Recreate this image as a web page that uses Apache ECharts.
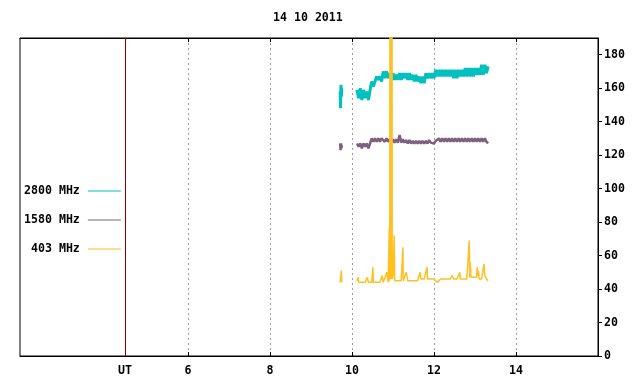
<!DOCTYPE html>
<html>
<head>
<meta charset="utf-8">
<script src="https://cdn.jsdelivr.net/npm/echarts@6/dist/echarts.min.js"></script>
<style>
  html, body { margin: 0; padding: 0; background: #fff; }
  #chart { width: 640px; height: 384px; }
</style>
</head>
<body>
<div id="chart"></div>
<script>
// radio flux, 14 10 2011
const titleText = '14 10 2011';
const seriesNames = ['2800 MHz', '1580 MHz', '403 MHz'];
const xTicks = [6, 8, 10, 12, 14];
const yTicks = [0, 20, 40, 60, 80, 100, 120, 140, 160, 180];
const utMark = 4.46;

// sample times (UT hours) shared by 2800 and 1580
const times = [9.71, 9.72, 9.73, 9.74, 9.75, 9.9,
    10.12, 10.16, 10.20, 10.24, 10.28, 10.32, 10.36, 10.40, 10.44, 10.48,
    10.52, 10.56, 10.60, 10.64, 10.68, 10.72, 10.76, 10.80, 10.84, 10.88,
    10.92, 10.96, 11.00, 11.04, 11.08, 11.12, 11.16, 11.20, 11.24, 11.28,
    11.32, 11.36, 11.40, 11.44, 11.48, 11.52, 11.56, 11.60, 11.64, 11.68,
    11.72, 11.76, 11.80, 11.84, 11.88, 11.92, 11.96, 12.00, 12.04, 12.08,
    12.12, 12.16, 12.20, 12.24, 12.28, 12.32, 12.36, 12.40, 12.44, 12.48,
    12.52, 12.56, 12.60, 12.64, 12.68, 12.72, 12.76, 12.80, 12.84, 12.88,
    12.92, 12.96, 13.00, 13.04, 13.08, 13.12, 13.16, 13.20, 13.24, 13.28, 13.32];

const mhz2800 = [158, 148, 162, 155, 160, null,
    159, 154, 160, 153, 159, 154, 158, 153, 159, 164,
    161, 164, 167, 165, 167, 164, 170, 166, 170, 166,
    169, 165, 169, 165, 168, 165, 169, 165, 169, 166,
    169, 165, 169, 165, 168, 164, 168, 164, 167, 163,
    167, 163, 169, 166, 169, 166, 169, 166, 171, 167,
    171, 167, 171, 167, 171, 167, 171, 167, 171, 166,
    171, 166, 171, 167, 171, 167, 172, 167, 172, 167,
    172, 167, 172, 168, 172, 168, 174, 168, 174, 169, 173];

const mhz1580 = [127, 123, 127, 124, 126, null,
    127, 125, 127, 124, 127, 125, 127, 124, 127, 130,
    128, 130, 128, 130, 128, 130, 131, 128, 130, 128,
    129.5, 127.5, 129.5, 127.5, 129.5, 127.5, 132, 127.5, 129.5, 127.5,
    129, 127, 129, 127, 128.5, 127, 128.5, 127, 128.5, 127,
    128.5, 127, 128.5, 127, 129, 127.5, 128.5, 127, 128.5, 127.5,
    130, 128, 130, 128, 130, 128, 130, 128, 130, 128,
    130, 128, 130, 128, 130, 128, 130, 128, 130, 128,
    130, 128, 130, 128, 130, 128, 130, 128, 130, 128, 127];

// 403 MHz has its own times (spikes); the burst near 10.95 is off scale
const times403 = [9.71, 9.73, 9.74, 9.75, 9.9,
    10.12, 10.15, 10.16, 10.20, 10.24, 10.28, 10.32, 10.36, 10.37, 10.40,
    10.44, 10.48, 10.51, 10.52, 10.56, 10.60, 10.64, 10.68, 10.72, 10.73,
    10.76, 10.80, 10.85, 10.88, 10.91, 10.92, 10.93, 10.935, 10.94, 10.945,
    10.95, 10.955, 10.96, 10.965, 10.97, 10.98, 11.00, 11.03, 11.04, 11.08,
    11.12, 11.16, 11.20, 11.24, 11.25, 11.28, 11.32, 11.36, 11.40, 11.44,
    11.48, 11.52, 11.56, 11.60, 11.64, 11.66, 11.68, 11.72, 11.76, 11.80,
    11.83, 11.84, 11.88, 11.92, 11.96, 12.00, 12.04, 12.08, 12.12, 12.16,
    12.20, 12.24, 12.28, 12.32, 12.36, 12.40, 12.44, 12.48, 12.52, 12.56,
    12.60, 12.63, 12.64, 12.68, 12.72, 12.76, 12.80, 12.84, 12.86, 12.87,
    12.88, 12.89, 12.90, 12.92, 12.96, 13.00, 13.04, 13.05, 13.06, 13.08,
    13.10, 13.12, 13.16, 13.20, 13.22, 13.24, 13.28, 13.32];

const mhz403 = [44, 44, 51, 44, null,
    45, 47, 44, 45, 44, 45, 44, 45, 47, 44,
    45, 44, 53, 44, 43, 44, 43, 44, 43, 48,
    44, 43, 50, 44, 77, 45, 400, 46, 400, 46,
    400, 46, 400, 46, 400, 46, 48, 72, 45, 44,
    45, 44, 45, 65, 45, 44, 50, 45, 44, 45,
    46, 45, 46, 45, 46, 50, 46, 47, 46, 47,
    53, 46, 47, 46, 45, 46, 45, 44, 45, 46,
    45, 46, 45, 46, 45, 46, 48, 46, 45, 46,
    45, 50, 46, 45, 46, 47, 46, 47, 69, 47,
    56, 54, 47, 46, 47, 46, 47, 53, 48, 51,
    46, 45, 46, 47, 55, 48, 46, 45];

const colors = ['#00c0c0', '#7f5f7f', '#ffc020'];
const widths = [3, 2.5, 1.5];
const FONT = 'DejaVu Sans Mono';

function pairs(xs, ys) {
    return xs.map((x, i) => [x, ys[i]]);
}

const chart = echarts.init(document.getElementById('chart'), null, { renderer: 'canvas' });

const lineSeries = (i, data, extra) => Object.assign({
    name: seriesNames[i],
    type: 'line',
    data: data,
    color: colors[i],
    symbol: 'none',
    showSymbol: false,
    connectNulls: false,
    clip: true,
    lineStyle: { width: widths[i], color: colors[i] },
    xAxisIndex: 0,
    yAxisIndex: 0
}, extra || {});

chart.setOption({
    animation: false,
    backgroundColor: '#fff',
    title: {
        text: titleText,
        left: 273,
        top: 12,
        padding: 0,
        textStyle: { fontFamily: FONT, fontSize: 11.6, fontWeight: 'bold', color: '#000' }
    },
    legend: {
        data: seriesNames.map(n => ({ name: n, icon: 'rect' })),
        orient: 'vertical',
        align: 'right',
        left: 24,
        top: 185,
        padding: 0,
        itemWidth: 33,
        itemHeight: 1,
        itemGap: 17,
        textStyle: { fontFamily: FONT, fontSize: 11.6, fontWeight: 'bold', color: '#000', padding: [0, 3, 0, 0] }
    },
    grid: {
        left: 20, right: 42, top: 38, bottom: 28,
        show: true, borderColor: '#000', borderWidth: 1, backgroundColor: 'transparent'
    },
    xAxis: [{
        type: 'value',
        min: 1.9,
        max: 16,
        axisLine: { show: true, lineStyle: { color: '#000' } },
        axisTick: { show: true, inside: true, length: 4, customValues: xTicks, lineStyle: { color: '#000' } },
        axisLabel: {
            customValues: [utMark].concat(xTicks),
            formatter: v => (v < 5 ? 'UT' : String(v)),
            margin: 9,
            fontFamily: FONT, fontSize: 11.6, fontWeight: 'bold', color: '#000'
        },
        splitLine: { show: true, lineStyle: { color: '#a0a0a0', type: [2, 3], width: 1 } }
    }, {
        type: 'value',
        position: 'top',
        min: 1.9,
        max: 16,
        axisLine: { show: true, lineStyle: { color: '#000' } },
        axisTick: { show: true, inside: true, length: 4, customValues: xTicks, lineStyle: { color: '#000' } },
        axisLabel: { show: false },
        splitLine: { show: false }
    }],
    yAxis: [{
        type: 'value',
        position: 'right',
        min: 0,
        max: 190,
        interval: 20,
        axisLine: { show: true, lineStyle: { color: '#000' } },
        axisTick: { show: true, inside: false, length: 4, customValues: yTicks, lineStyle: { color: '#000' } },
        axisLabel: {
            customValues: yTicks,
            margin: 6,
            align: 'left',
            fontFamily: FONT, fontSize: 11.6, fontWeight: 'bold', color: '#000'
        },
        splitLine: { show: false }
    }],
    series: [
        lineSeries(0, pairs(times, mhz2800), {
            markLine: {
                silent: true,
                symbol: 'none',
                label: { show: false },
                lineStyle: { color: '#8b0000', type: 'solid', width: 1 },
                data: [{ xAxis: utMark }]
            }
        }),
        lineSeries(1, pairs(times, mhz1580)),
        lineSeries(2, pairs(times403, mhz403))
    ]
});
</script>
</body>
</html>
